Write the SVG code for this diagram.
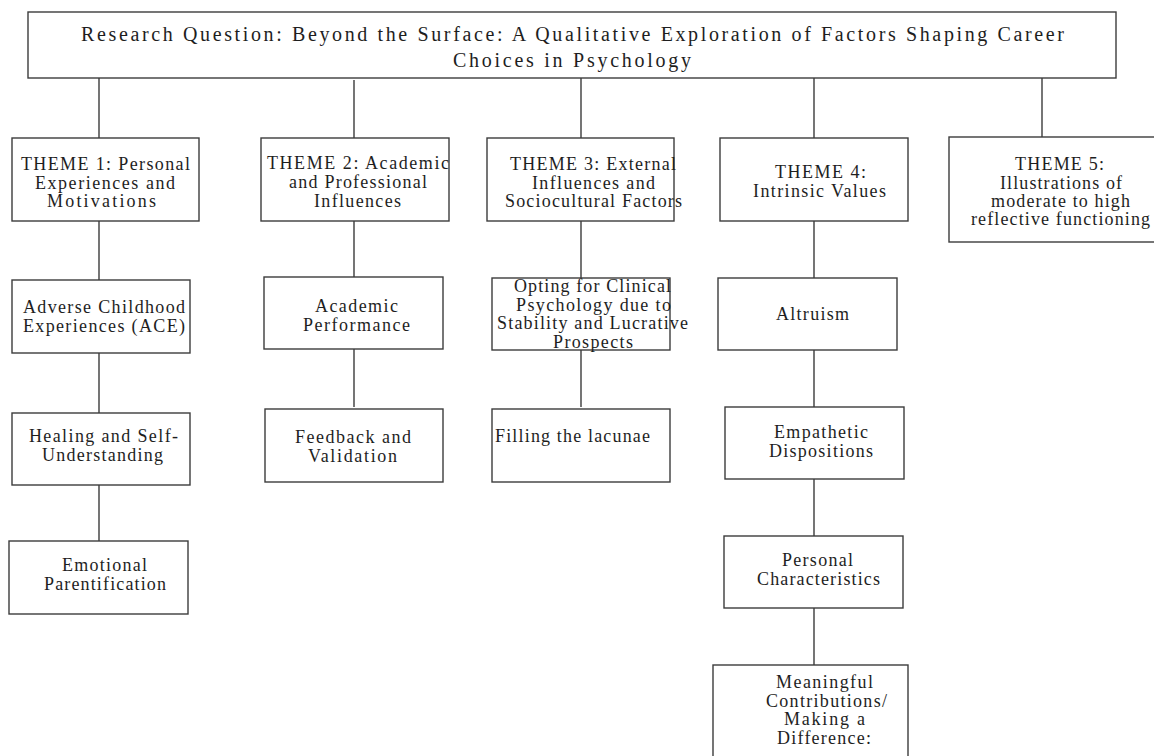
<svg xmlns="http://www.w3.org/2000/svg" width="1154" height="756" viewBox="0 0 1154 756">
<style>
.box{fill:#fff;stroke:#3c3c3c;stroke-width:1.4}
.ln{stroke:#3c3c3c;stroke-width:1.4;fill:none}
text{font-family:"Liberation Serif","Times New Roman",serif;fill:#1e1e1e}
.t{font-size:18px}
.h{font-size:20px}
</style>
<rect width="1154" height="756" fill="#fff"/>
<g id="connectors">
<path class="ln" d="M99 78V138M99 221V280M99 353V413M99 485V541"/>
<path class="ln" d="M354 80V138M354 221V277M354 349V407"/>
<path class="ln" d="M581 78V138M581 221V278M581 350V407"/>
<path class="ln" d="M814 76V138M814 221V278M814 350V407M814 479V536M814 608V665"/>
<path class="ln" d="M1042 78V137"/>
</g>
<g id="research-question">
<rect class="box" x="28" y="12" width="1088" height="66"/>
<text class="h" x="81" y="41" textLength="983" lengthAdjust="spacing">Research Question: Beyond the Surface: A Qualitative Exploration of Factors Shaping Career</text>
<text class="h" x="453" y="67" textLength="238" lengthAdjust="spacing">Choices in Psychology</text>
</g>
<g id="theme1">
<rect class="box" x="12" y="138" width="187" height="83"/>
<text class="t" x="21" y="170" textLength="169" lengthAdjust="spacing">THEME 1: Personal</text>
<text class="t" x="35" y="188.5" textLength="140" lengthAdjust="spacing">Experiences and</text>
<text class="t" x="47" y="207" textLength="109" lengthAdjust="spacing">Motivations</text>
</g>
<g id="theme2">
<rect class="box" x="261" y="138" width="188" height="83"/>
<text class="t" x="267" y="169" textLength="182" lengthAdjust="spacing">THEME 2: Academic</text>
<text class="t" x="289" y="188" textLength="138" lengthAdjust="spacing">and Professional</text>
<text class="t" x="314" y="207" textLength="87" lengthAdjust="spacing">Influences</text>
</g>
<g id="theme3">
<rect class="box" x="487" y="138" width="187" height="83"/>
<text class="t" x="510" y="170" textLength="166" lengthAdjust="spacing">THEME 3: External</text>
<text class="t" x="532" y="188.5" textLength="123" lengthAdjust="spacing">Influences and</text>
<text class="t" x="505" y="207" textLength="177" lengthAdjust="spacing">Sociocultural Factors</text>
</g>
<g id="theme4">
<rect class="box" x="720" y="138" width="188" height="83"/>
<text class="t" x="775" y="178" textLength="91" lengthAdjust="spacing">THEME 4:</text>
<text class="t" x="753" y="197" textLength="133" lengthAdjust="spacing">Intrinsic Values</text>
</g>
<g id="theme5">
<rect class="box" x="949" y="137" width="210" height="105"/>
<text class="t" x="1015" y="170" textLength="89" lengthAdjust="spacing">THEME 5:</text>
<text class="t" x="1000" y="188.5" textLength="122" lengthAdjust="spacing">Illustrations of</text>
<text class="t" x="991" y="207" textLength="139" lengthAdjust="spacing">moderate to high</text>
<text class="t" x="971" y="225" textLength="179" lengthAdjust="spacing">reflective functioning</text>
</g>
<g id="ace">
<rect class="box" x="12" y="280" width="178" height="73"/>
<text class="t" x="23" y="313" textLength="162" lengthAdjust="spacing">Adverse Childhood</text>
<text class="t" x="23" y="331.5" textLength="162" lengthAdjust="spacing">Experiences (ACE)</text>
</g>
<g id="healing">
<rect class="box" x="12" y="413" width="178" height="72"/>
<text class="t" x="29" y="442" textLength="149" lengthAdjust="spacing">Healing and Self-</text>
<text class="t" x="42" y="460.5" textLength="121" lengthAdjust="spacing">Understanding</text>
</g>
<g id="emotional">
<rect class="box" x="9" y="541" width="179" height="73"/>
<text class="t" x="62" y="571" textLength="85" lengthAdjust="spacing">Emotional</text>
<text class="t" x="44" y="589.5" textLength="122" lengthAdjust="spacing">Parentification</text>
</g>
<g id="academic">
<rect class="box" x="264" y="277" width="179" height="72"/>
<text class="t" x="315" y="312" textLength="83" lengthAdjust="spacing">Academic</text>
<text class="t" x="303" y="330.5" textLength="107" lengthAdjust="spacing">Performance</text>
</g>
<g id="feedback">
<rect class="box" x="265" y="409" width="178" height="73"/>
<text class="t" x="295" y="443" textLength="116" lengthAdjust="spacing">Feedback and</text>
<text class="t" x="308" y="461.5" textLength="89" lengthAdjust="spacing">Validation</text>
</g>
<g id="opting">
<rect class="box" x="492" y="278" width="178" height="72"/>
<text class="t" x="514" y="292" textLength="157" lengthAdjust="spacing">Opting for Clinical</text>
<text class="t" x="516" y="310.5" textLength="155" lengthAdjust="spacing">Psychology due to</text>
<text class="t" x="497" y="329" textLength="191" lengthAdjust="spacing">Stability and Lucrative</text>
<text class="t" x="553" y="347.5" textLength="80" lengthAdjust="spacing">Prospects</text>
</g>
<g id="filling">
<rect class="box" x="492" y="409" width="178" height="73"/>
<text class="t" x="495" y="442" textLength="155" lengthAdjust="spacing">Filling the lacunae</text>
</g>
<g id="altruism">
<rect class="box" x="718" y="278" width="179" height="72"/>
<text class="t" x="776" y="320" textLength="73" lengthAdjust="spacing">Altruism</text>
</g>
<g id="empathetic">
<rect class="box" x="725" y="407" width="179" height="72"/>
<text class="t" x="774" y="438" textLength="94" lengthAdjust="spacing">Empathetic</text>
<text class="t" x="769" y="456.5" textLength="104" lengthAdjust="spacing">Dispositions</text>
</g>
<g id="personal">
<rect class="box" x="724" y="536" width="179" height="72"/>
<text class="t" x="782" y="566" textLength="71" lengthAdjust="spacing">Personal</text>
<text class="t" x="757" y="584.5" textLength="123" lengthAdjust="spacing">Characteristics</text>
</g>
<g id="meaningful">
<rect class="box" x="713" y="665" width="195" height="100"/>
<text class="t" x="776" y="688" textLength="97" lengthAdjust="spacing">Meaningful</text>
<text class="t" x="766" y="706.5" textLength="121" lengthAdjust="spacing">Contributions/</text>
<text class="t" x="784" y="725" textLength="81" lengthAdjust="spacing">Making a</text>
<text class="t" x="777" y="743.5" textLength="94" lengthAdjust="spacing">Difference:</text>
</g>
</svg>
